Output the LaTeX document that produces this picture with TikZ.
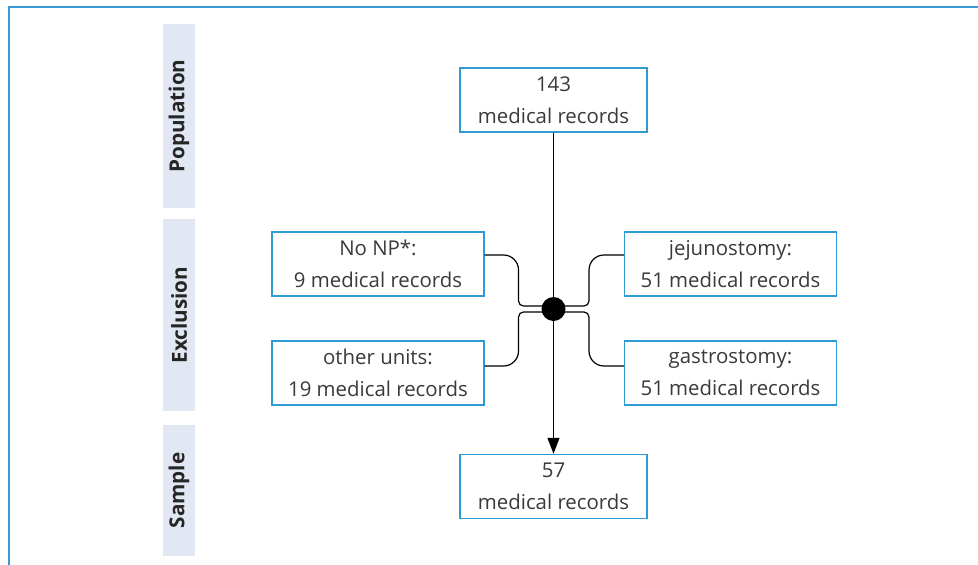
\documentclass[tikz,border=0pt]{standalone}
\usepackage{fontspec}
\setmainfont{Open Sans}
\usetikzlibrary{calc,arrows.meta}
\definecolor{frameblue}{HTML}{3A9AD9}
\definecolor{boxblue}{HTML}{2E9AD6}
\definecolor{barfill}{HTML}{E1E8F3}
\definecolor{txt}{HTML}{3A3A3A}
\tikzset{
  recbox/.style={draw=boxblue, line width=1.1pt, fill=white, text=txt, align=center,
    inner sep=0pt, minimum height=48pt,
    font=\fontsize{15.3}{24}\selectfont},
  narrowbox/.style={recbox, minimum width=140.25pt},
  widebox/.style={recbox, minimum width=159pt},
  sidebar/.style={fill=barfill, minimum height=24pt, inner sep=0pt, rotate=90,
    font=\fontsize{15.5}{17}\selectfont\bfseries, text=black!85},
  conn/.style={line width=0.9pt, black},
}
\begin{document}
\begin{tikzpicture}[x=0.75pt,y=-0.75pt]
\useasboundingbox (0,0) rectangle (978,564);
\begin{scope}
\clip (0,0) rectangle (978,564);
\draw[frameblue, line width=1.2pt] (990,7) -- (9,7) -- (9,580);
\end{scope}
% side bars
\node[sidebar, minimum width=138pt] (pop) at (179,116) {Population};
\node[sidebar, minimum width=144pt] (exc) at (179,315) {Exclusion};
\node[sidebar, minimum width=98.25pt] (smp) at (179,490.5) {Sample};
% boxes
\node[narrowbox] (top) at (553.5,100) {143\\medical records};
\node[widebox] (nonp) at (378,264) {No NP*:\\9 medical records};
\node[widebox] (other) at (378,373) {other units:\\19 medical records};
\node[widebox] (jej) at (730.5,264) {jejunostomy:\\51 medical records};
\node[widebox] (gas) at (730.5,373) {gastrostomy:\\51 medical records};
\node[narrowbox] (bot) at (553.5,486.5) {57\\medical records};
\coordinate (dc) at (553.5,309);
\coordinate (dL) at ($(dc)+(-35,0)$);
\coordinate (dR) at ($(dc)+(35.5,0)$);
\coordinate (S1) at ($(nonp.east)+(0,-9)$);
\coordinate (S2) at ($(other.east)+(0,-7)$);
\coordinate (S3) at ($(jej.west)+(0,-9)$);
\coordinate (S4) at ($(gas.west)+(0,-7)$);
% main arrow
\draw[conn, -{Triangle[length=12pt,width=9pt]}] (top) -- (bot);
% curved connectors
\draw[conn] (S1) -- ($(S1 -| dL)+(-15,0)$)
  .. controls ($(S1 -| dL)+(-6.7,0)$) and ($(S1 -| dL)+(0,6.7)$) .. ($(S1 -| dL)+(0,15)$)
  -- ($(dL)+(0,-8)$)
  .. controls ($(dL)+(0,-5.2)$) and ($(dL)+(2.2,-3)$) .. ($(dL)+(5,-3)$)
  -- ($(dc)+(0,-3)$);
\draw[conn] (S2) -- ($(S2 -| dL)+(-15,0)$)
  .. controls ($(S2 -| dL)+(-6.7,0)$) and ($(S2 -| dL)+(0,-6.7)$) .. ($(S2 -| dL)+(0,-15)$)
  -- ($(dL)+(0,8)$)
  .. controls ($(dL)+(0,5.2)$) and ($(dL)+(2.2,3)$) .. ($(dL)+(5,3)$)
  -- ($(dc)+(0,3)$);
\draw[conn] (S3) -- ($(S3 -| dR)+(15,0)$)
  .. controls ($(S3 -| dR)+(6.7,0)$) and ($(S3 -| dR)+(0,6.7)$) .. ($(S3 -| dR)+(0,15)$)
  -- ($(dR)+(0,-8)$)
  .. controls ($(dR)+(0,-5.2)$) and ($(dR)+(-2.2,-3)$) .. ($(dR)+(-5,-3)$)
  -- ($(dc)+(0,-3)$);
\draw[conn] (S4) -- ($(S4 -| dR)+(15,0)$)
  .. controls ($(S4 -| dR)+(6.7,0)$) and ($(S4 -| dR)+(0,-6.7)$) .. ($(S4 -| dR)+(0,-15)$)
  -- ($(dR)+(0,8)$)
  .. controls ($(dR)+(0,5.2)$) and ($(dR)+(-2.2,3)$) .. ($(dR)+(-5,3)$)
  -- ($(dc)+(0,3)$);
\node[circle, fill=black, minimum size=18pt, inner sep=0pt] (dot) at (dc) {};
\end{tikzpicture}
\end{document}
